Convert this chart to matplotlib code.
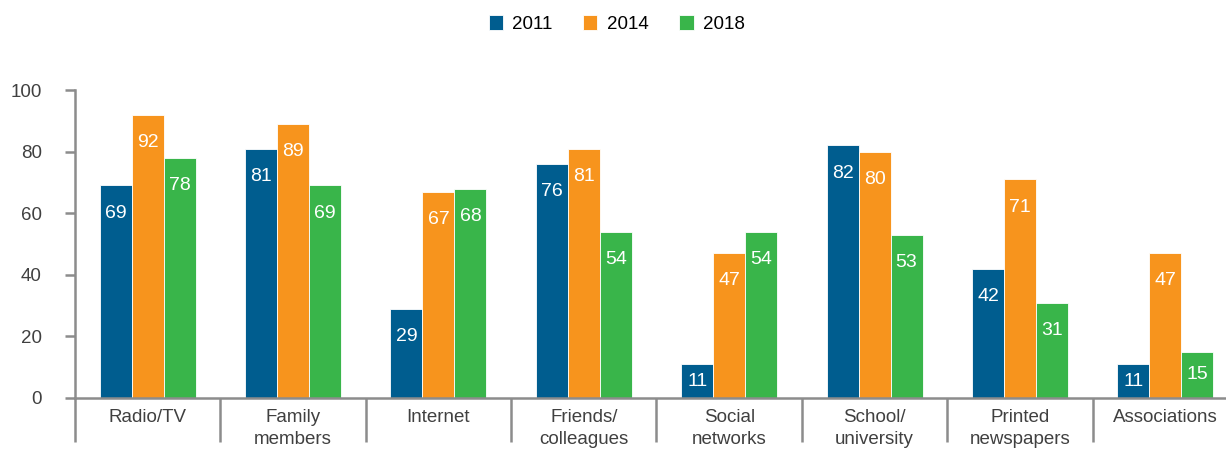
import matplotlib.pyplot as plt
import numpy as np

plt.rcParams['font.family'] = ['Liberation Sans', 'DejaVu Sans']

categories = ["Radio/TV", "Family\nmembers", "Internet", "Friends/\ncolleagues",
              "Social\nnetworks", "School/\nuniversity", "Printed\nnewspapers", "Associations"]
years = ["2011", "2014", "2018"]
v2011 = [69, 81, 29, 76, 11, 82, 42, 11]
v2014 = [92, 89, 67, 81, 47, 80, 71, 47]
v2018 = [78, 69, 68, 54, 54, 53, 31, 15]
colors = ["#005d8f", "#f7941d", "#39b54a"]

fig = plt.figure(figsize=(12.26, 4.5), dpi=100)
# axes runs a little past the right edge so the last group is cut off
ax = fig.add_axes([75 / 1226, 1 - 398 / 450, 1163 / 1226, 308 / 450])

x = np.arange(len(categories)) + 0.5
w = 0.22
series = [v2011, v2014, v2018]
for k, (vals, col, yr) in enumerate(zip(series, colors, years)):
    pos = x + (k - 1) * w
    ax.bar(pos, vals, width=w, color=col, label=yr, edgecolor="white", linewidth=0.6)
    for px, v in zip(pos, vals):
        ly = v - 9 if v > 20 else v * 0.5
        ax.text(px, ly, str(v), ha="center", va="center", color="white", fontsize=14)

ax.set_xlim(0, len(categories))
ax.set_ylim(0, 100)
ax.set_yticks([0, 20, 40, 60, 80, 100])
ax.tick_params(axis="y", length=7, width=1.8, color="#8c8c8c", labelsize=13.5,
               labelcolor="#404040", pad=17)

ax.set_xticks(x)
ax.set_xticklabels(categories, fontsize=13.5, color="#404040", linespacing=1.35)
ax.tick_params(axis="x", which="major", length=0, pad=8)
ax.set_xticks(np.arange(len(categories) + 1), minor=True)
ax.tick_params(axis="x", which="minor", length=32, width=1.8, color="#8c8c8c")

for side in ["top", "right"]:
    ax.spines[side].set_visible(False)
for side in ["left", "bottom"]:
    ax.spines[side].set_color("#8c8c8c")
    ax.spines[side].set_linewidth(1.8)

fig.legend(loc="upper center", bbox_to_anchor=(0.503, 1.005), ncol=3, frameon=False,
           fontsize=13.5, handlelength=0.75, handleheight=0.9, columnspacing=1.65,
           handletextpad=0.5)

fig.savefig("out.png", dpi=100)
